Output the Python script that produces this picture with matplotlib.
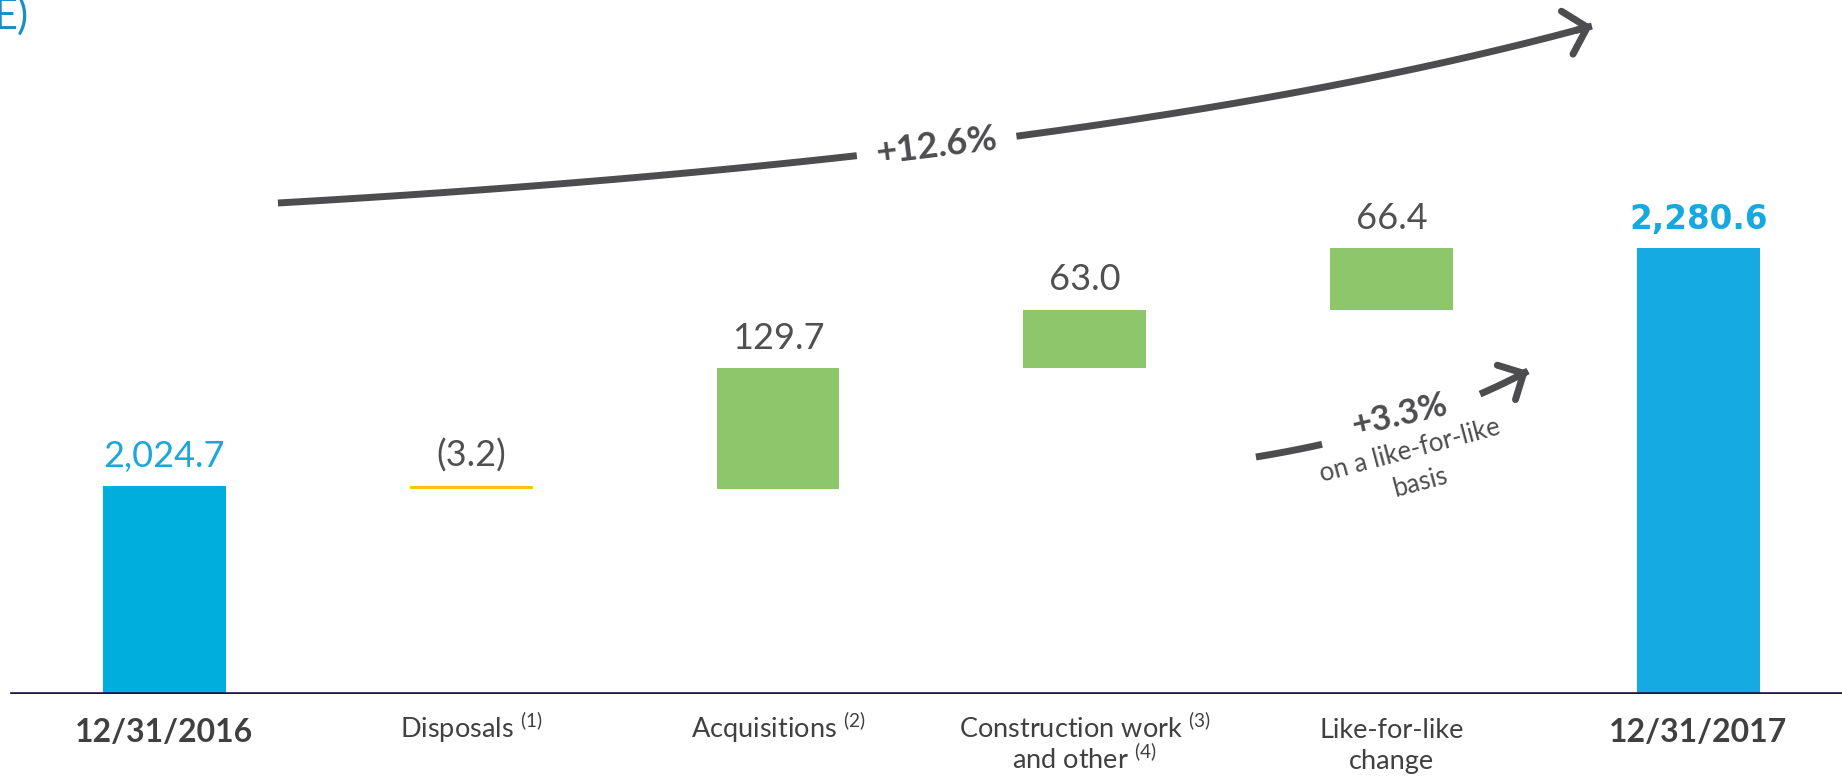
import matplotlib.pyplot as plt
import numpy as np
from matplotlib.transforms import blended_transform_factory

plt.rcParams['font.family'] = ['Lato', 'DejaVu Sans']
plt.rcParams['mathtext.fontset'] = 'custom'
plt.rcParams['mathtext.rm'] = 'Lato'
plt.rcParams['mathtext.it'] = 'Lato:italic'
plt.rcParams['mathtext.bf'] = 'Lato:bold'

# data
start_value = 2024.7
end_value = 2280.6
step_values = [-3.2, 129.7, 63.0, 66.4]
value_labels = ['2,024.7', '(3.2)', '129.7', '63.0', '66.4', '2,280.6']
cat_lines = [['12/31/2016'],
             ['Disposals $^{(1)}$'],
             ['Acquisitions $^{(2)}$'],
             ['Construction work $^{(3)}$', 'and other $^{(4)}$'],
             ['Like-for-like', 'change'],
             ['12/31/2017']]
total_growth = '+12.6%'
lfl_growth = '+3.3%'
lfl_note = ['on a like-for-like', 'basis']

# colours
blue_start = '#00AEDE'
blue_end = '#15ABE2'
green = '#8DC66B'
yellow = '#FFC20E'
grey = '#4D4D4F'
text_grey = '#404040'
navy = '#1B1450'

W, H = 1842, 776
fig = plt.figure(figsize=(W / 100, H / 100), dpi=100)
ax = fig.add_axes([0, 1 - 694 / H, 1, 694 / H])
y0 = 1801
ax.set_xlim(-0.536, 5.468)
ax.set_ylim(y0, y0 + 694 / 0.93)
ax.axis('off')

# waterfall pieces
bottoms, heights, colors = [y0], [start_value - y0], [blue_start]
level = start_value
for v in step_values:
    if v < 0:
        bottoms.append(level + v)
        heights.append(-v)
        colors.append(yellow)
    else:
        bottoms.append(level)
        heights.append(v)
        colors.append(green)
    level += v
bottoms.append(y0)
heights.append(end_value - y0)
colors.append(blue_end)

x = np.arange(len(heights))
ax.bar(x, heights, bottom=bottoms, width=0.4, color=colors, zorder=2)
ax.axhline(y0, xmin=12 / W, color=navy, lw=2.6, zorder=3)

# value labels
tops = [b + h for b, h in zip(bottoms, heights)]
for i, (xi, top, lab) in enumerate(zip(x, tops, value_labels)):
    if i == 0:
        kw = dict(color='#1CA7DC', fontsize=26)
    elif i == len(x) - 1:
        kw = dict(color='#15A9E0', fontsize=23.5, fontweight='bold',
                  family=['DejaVu Sans'])
    else:
        kw = dict(color='#505050', fontsize=26)
    ax.annotate(lab, (xi, top), xytext=(0, 14), textcoords='offset points',
                ha='center', va='baseline', **kw)

# category labels under the axis
tr = blended_transform_factory(ax.transData, fig.transFigure)
for i, lines in enumerate(cat_lines):
    bold = i in (0, len(cat_lines) - 1)
    for j, line in enumerate(lines):
        if bold:
            ax.text(x[i], 1 - 742 / H, line, transform=tr, ha='center',
                    va='baseline', fontsize=23, fontweight='bold',
                    color=text_grey)
        else:
            ax.text(x[i], 1 - (738 + 31 * j) / H, line, transform=tr,
                    ha='center', va='baseline', fontsize=19.5,
                    color=text_grey)


def px2d(px, py):
    return np.array([(px - 164.5) / 306.8, y0 + (694 - py) / 0.93])


def bezier(p0, p1, p2, n=300):
    t = np.linspace(0, 1, n)[:, None]
    return (1 - t) ** 2 * p0 + 2 * t * (1 - t) * p1 + t ** 2 * p2


def gapped_arrow(p0, p1, p2, gap, hl, hw):
    pts = bezier(p0, p1, p2)
    left = pts[pts[:, 0] < gap[0]]
    right = pts[pts[:, 0] > gap[1]]
    for seg in (left, right):
        ax.plot(seg[:, 0], seg[:, 1], color=grey, lw=5,
                solid_capstyle='butt', zorder=4)
    ax.annotate('', xy=right[-1], xytext=right[-6],
                arrowprops=dict(arrowstyle=f'->,head_length={hl},head_width={hw}',
                                mutation_scale=1, color=grey, lw=5,
                                shrinkA=0, shrinkB=0,
                                capstyle='round', joinstyle='round'),
                zorder=4)


# total growth arrow
gapped_arrow(px2d(278, 203), px2d(1120, 155), px2d(1592, 26),
             ((858 - 164.5) / 306.8, (1016 - 164.5) / 306.8), 15, 16)
tx, ty = px2d(937, 146)
ax.text(tx, ty, total_growth, rotation=7, rotation_mode='anchor',
        ha='center', va='center', fontsize=26, fontweight='bold', color=grey)

# like-for-like arrow
gapped_arrow(px2d(1256, 457), px2d(1415.5, 431), px2d(1528, 371),
             ((1323 - 164.5) / 306.8, (1480 - 164.5) / 306.8), 14, 14)
tx, ty = px2d(1400, 415)
ax.text(tx, ty, lfl_growth, rotation=13, rotation_mode='anchor',
        ha='center', va='center', fontsize=25, fontweight='bold', color=grey)
for (cx, cy), line in zip([(1410, 451), (1420, 483)], lfl_note):
    tx, ty = px2d(cx, cy)
    ax.text(tx, ty, line, rotation=15, rotation_mode='anchor',
            ha='center', va='center', fontsize=18.5, color=grey)

# fragment of the slide title cut by the frame
fig.text(28 / W, 1 - 29 / H, 'E)', ha='right', va='baseline',
         fontsize=30, color='#1B8EC2')

fig.savefig('out.png', dpi=100)
